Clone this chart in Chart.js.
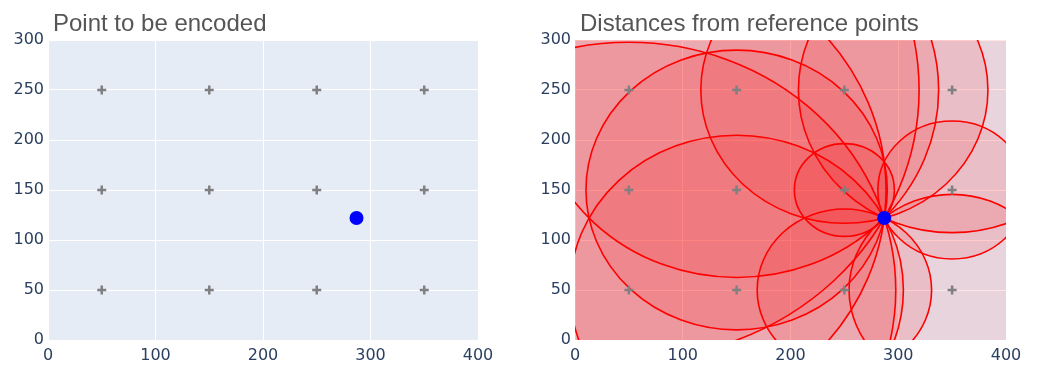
<!DOCTYPE html>
<html>
<head>
<meta charset="utf-8">
<script src="https://cdn.jsdelivr.net/npm/chart.js@4.4.0/dist/chart.umd.min.js"></script>
<style>
  body { margin: 0; background: #fff; }
  .wrap { position: absolute; top: 0; width: 524px; height: 375px; }
</style>
</head>
<body>
<div class="wrap" style="left:0"><canvas id="left"></canvas></div>
<div class="wrap" style="left:524px"><canvas id="right"></canvas></div>
<script>
const refX = [50, 150, 250, 350];
const refY = [50, 150, 250];
const encoded = [287, 122];
const xTicks = [0, 100, 200, 300, 400];
const yTicks = [0, 50, 100, 150, 200, 250, 300];
const titles = ['Point to be encoded', 'Distances from reference points'];

const refPoints = [];
refX.forEach(x => refY.forEach(y => refPoints.push({ x: x, y: y })));

const tickFont = { family: '"DejaVu Sans", sans-serif', size: 16 };

// plot background + title text
const framePlugin = {
  id: 'frame',
  beforeDraw(chart) {
    const a = chart.chartArea;
    const ctx = chart.ctx;
    ctx.save();
    ctx.fillStyle = '#E5ECF6';
    ctx.fillRect(a.left, a.top, a.right - a.left, a.bottom - a.top);
    ctx.restore();
  },
  afterDraw(chart, args, opts) {
    const ctx = chart.ctx;
    ctx.save();
    ctx.font = '24px "Liberation Sans", Arial, sans-serif';
    ctx.fillStyle = '#555';
    ctx.textAlign = 'left';
    ctx.textBaseline = 'alphabetic';
    ctx.fillText(opts.text, chart.chartArea.left + 5, 31);
    ctx.restore();
  }
};

// circles around each reference point through the encoded point
const circlePlugin = {
  id: 'circles',
  beforeDatasetsDraw(chart, args, opts) {
    if (!opts.show) return;
    const xs = chart.scales.x, ys = chart.scales.y;
    const a = chart.chartArea;
    const ctx = chart.ctx;
    ctx.save();
    ctx.beginPath();
    ctx.rect(a.left, a.top, a.right - a.left, a.bottom - a.top);
    ctx.clip();
    refPoints.forEach(p => {
      const r = Math.hypot(encoded[0] - p.x, encoded[1] - p.y);
      const cx = xs.getPixelForValue(p.x);
      const cy = ys.getPixelForValue(p.y);
      const rx = Math.abs(xs.getPixelForValue(p.x + r) - cx);
      const ry = Math.abs(ys.getPixelForValue(p.y + r) - cy);
      ctx.beginPath();
      ctx.ellipse(cx, cy, rx, ry, 0, 0, Math.PI * 2);
      ctx.fillStyle = 'rgba(255,0,0,0.1)';
      ctx.fill();
      ctx.lineWidth = 1.6;
      ctx.strokeStyle = 'red';
      ctx.stroke();
    });
    ctx.restore();
  }
};

function makeChart(id, title, showCircles, yWidth, rightPad) {
  return new Chart(document.getElementById(id), {
    type: 'scatter',
    data: {
      datasets: [
        {
          data: refPoints,
          pointStyle: 'cross',
          pointRadius: 4.5,
          borderWidth: 2.5,
          borderColor: 'rgb(128,128,128)'
        },
        {
          data: [{ x: encoded[0], y: encoded[1] }],
          pointRadius: 7,
          backgroundColor: 'blue',
          borderWidth: 0
        }
      ]
    },
    options: {
      responsive: true,
      maintainAspectRatio: false,
      animation: false,
      layout: { padding: { top: 40, right: rightPad, left: 0, bottom: 0 } },
      plugins: {
        legend: { display: false },
        tooltip: { enabled: false },
        frame: { text: title },
        circles: { show: showCircles }
      },
      scales: {
        x: {
          type: 'linear',
          min: 0,
          max: 400,
          afterBuildTicks: s => { s.ticks = xTicks.map(v => ({ value: v })); },
          afterFit: s => { s.height = 35; },
          grid: { color: '#fff', drawTicks: false },
          border: { display: false },
          ticks: { font: tickFont, color: '#2a3f5f', padding: 6, maxRotation: 0, autoSkip: false }
        },
        y: {
          type: 'linear',
          min: 0,
          max: 300,
          afterBuildTicks: s => { s.ticks = yTicks.map(v => ({ value: v })); },
          afterFit: s => { s.width = yWidth; },
          grid: { color: '#fff', drawTicks: false },
          border: { display: false },
          ticks: { font: tickFont, color: '#2a3f5f', padding: 4, autoSkip: false }
        }
      }
    },
    plugins: [framePlugin, circlePlugin]
  });
}

makeChart('left', titles[0], false, 48, 46);
makeChart('right', titles[1], true, 51, 42);
</script>
</body>
</html>
